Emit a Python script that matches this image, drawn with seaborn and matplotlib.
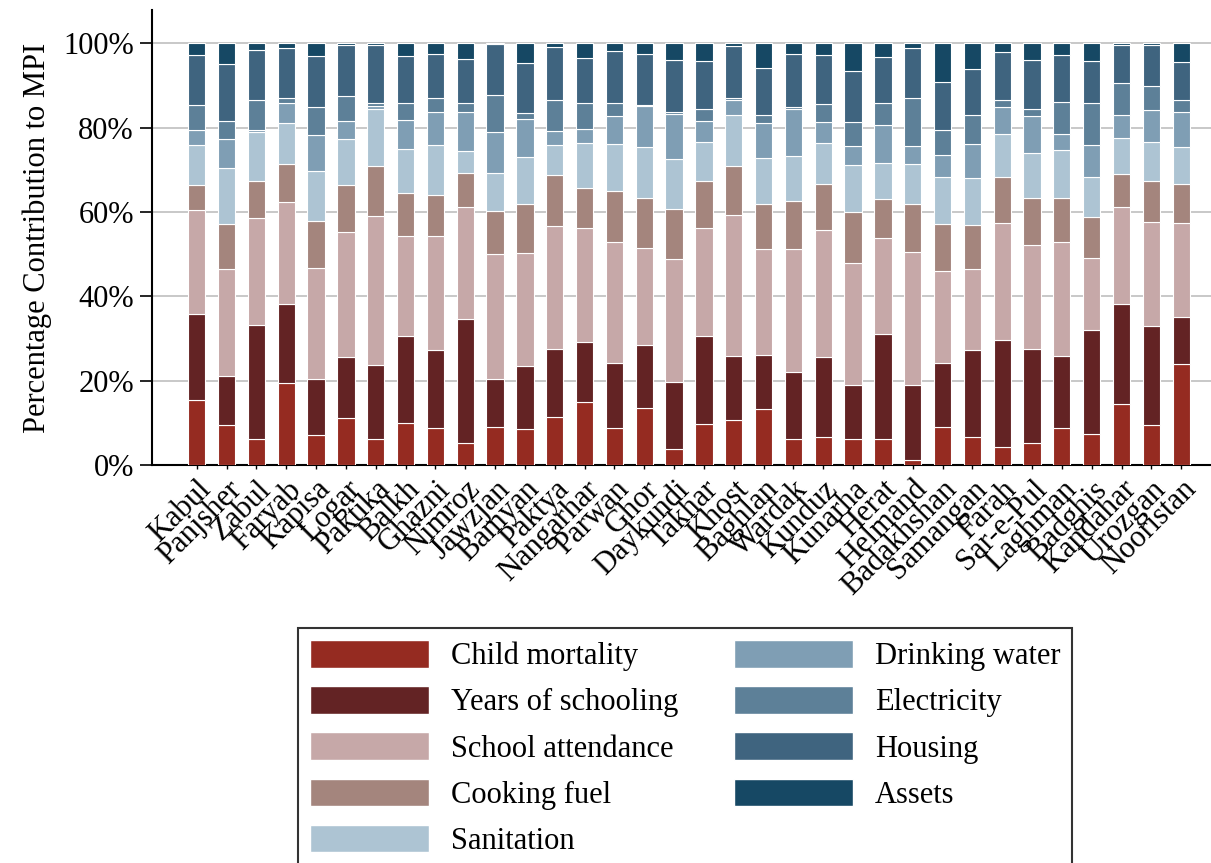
import pandas as pd
import matplotlib.pyplot as plt
import seaborn as sns
from matplotlib.patches import Patch
from matplotlib.ticker import FuncFormatter

# Provincias (orden del eje x)
provinces = ["Kabul", "Panjsher", "Zabul", "Faryab", "Kapisa", "Logar", "Paktika", "Balkh",
             "Ghazni", "Nimroz", "Jawzjan", "Bamyan", "Paktya", "Nangarhar", "Parwan", "Ghor",
             "Daykundi", "Takhar", "Khost", "Baghlan", "Wardak", "Kunduz", "Kunarha", "Herat",
             "Helmand", "Badakhshan", "Samangan", "Farah", "Sar-e-Pul", "Laghman", "Badghis",
             "Kandahar", "Urozgan", "Nooristan"]

# Contribuciones (%) por indicador, de abajo hacia arriba
child = [15.4, 9.6, 6.3, 19.5, 7.1, 11.2, 6.3, 9.9, 8.8, 5.3, 9.1, 8.5, 11.5, 15.0, 8.8, 13.6, 3.8,
         9.7, 10.7, 13.4, 6.3, 6.7, 6.3, 6.2, 1.2, 9.1, 6.7, 4.3, 5.3, 8.7, 7.3, 14.5, 9.5, 24.0]
years = [20.5, 11.5, 26.9, 18.7, 13.3, 14.4, 17.4, 20.7, 18.5, 29.3, 11.3, 15.1, 16.1, 14.2, 15.4, 14.8, 15.9,
         20.9, 15.2, 12.7, 15.8, 19.0, 12.7, 24.8, 17.8, 15.2, 20.6, 25.3, 22.3, 17.1, 24.8, 23.6, 23.4, 11.2]
school = [24.6, 25.3, 25.4, 24.2, 26.4, 29.6, 35.3, 23.8, 26.9, 26.6, 29.6, 26.6, 29.1, 27.1, 28.8, 23.1, 29.1,
          25.7, 33.5, 25.1, 29.1, 30.0, 28.8, 22.9, 31.6, 21.7, 19.3, 27.8, 24.7, 27.2, 17.0, 23.2, 24.8, 22.2]
cooking = [6.0, 10.8, 8.7, 9.1, 11.1, 11.2, 11.9, 10.2, 9.9, 8.0, 10.2, 11.6, 12.0, 9.5, 11.9, 11.8, 11.9,
           11.0, 11.5, 10.6, 11.3, 11.0, 12.1, 9.3, 11.4, 11.1, 10.4, 10.8, 11.0, 10.3, 9.8, 7.7, 9.7, 9.2]
sanitation = [9.5, 13.3, 11.7, 9.5, 11.8, 10.9, 13.6, 10.4, 11.7, 5.3, 9.0, 11.2, 7.3, 10.6, 11.2, 12.1, 11.8,
              9.3, 12.0, 10.9, 10.8, 9.7, 11.2, 8.4, 9.3, 11.1, 11.1, 10.2, 10.8, 11.3, 9.3, 8.6, 9.2, 8.8]
water = [3.4, 6.8, 0.4, 4.9, 8.5, 4.2, 0.7, 6.7, 8.0, 9.1, 9.8, 9.0, 3.1, 3.3, 6.6, 9.8, 10.8,
         4.9, 3.6, 8.4, 11.2, 5.0, 4.5, 9.0, 4.3, 5.3, 8.0, 6.5, 8.6, 3.9, 7.6, 5.3, 7.7, 8.2]
electricity = [5.9, 4.2, 7.1, 1.1, 6.8, 5.9, 0.7, 4.2, 3.2, 2.2, 8.8, 1.4, 7.5, 6.2, 3.1, 0.1, 0.4,
               3.0, 0.6, 1.8, 0.4, 4.1, 5.8, 5.3, 11.4, 6.0, 6.8, 1.7, 1.7, 7.5, 10.1, 7.7, 5.6, 2.9]
housing = [11.9, 13.5, 11.9, 11.9, 12.0, 12.1, 13.6, 11.1, 10.5, 10.5, 12.0, 11.9, 12.5, 10.6, 12.4, 12.1, 12.3,
           11.2, 12.2, 11.3, 12.6, 11.8, 12.0, 10.8, 11.9, 11.3, 11.0, 11.3, 11.7, 11.2, 9.8, 8.9, 9.8, 9.1]
assets = [2.8, 5.0, 1.6, 1.1, 3.0, 0.5, 0.5, 3.0, 2.5, 3.7, 0.2, 4.7, 0.9, 3.5, 1.8, 2.6, 4.0,
          4.3, 0.7, 5.8, 2.5, 2.7, 6.6, 3.3, 1.1, 9.2, 6.1, 2.1, 3.9, 2.8, 4.3, 0.5, 0.3, 4.4]

components = ["Child mortality", "Years of schooling", "School attendance", "Cooking fuel",
              "Sanitation", "Drinking water", "Electricity", "Housing", "Assets"]
colors = ["#952b21", "#632324", "#c6a8a8", "#a4857d", "#adc4d3",
          "#7f9eb4", "#5d8098", "#3f647f", "#164864"]

series = [child, years, school, cooking, sanitation, water, electricity, housing, assets]
rows = []
for comp, vals in zip(components, series):
    for i, v in enumerate(vals):
        rows.append({"idx": i, "Indicador": comp, "valor": v})
df = pd.DataFrame(rows)

sns.set_style("ticks")
plt.rcParams["font.family"] = ["Liberation Serif", "DejaVu Serif"]
plt.rcParams.update({"text.color": "black", "axes.labelcolor": "black",
                     "xtick.color": "black", "ytick.color": "black"})
FS = 22

fig = plt.figure(figsize=(12.11, 8.63), dpi=100)
ax = fig.add_axes([0.1255, 0.461, 0.8745, 0.527])

# histplot apila el primer nivel de hue arriba -> invertir orden
sns.histplot(data=df, x="idx", weights="valor", hue="Indicador",
             hue_order=components[::-1], palette=dict(zip(components, colors)),
             multiple="stack", discrete=True, shrink=0.58, alpha=1,
             edgecolor="white", linewidth=0.8, legend=False, ax=ax, zorder=3)

ax.set_xlim(-1.5, 34.0)
ax.set_ylim(0, 107.8)
ax.set_yticks([0, 20, 40, 60, 80, 100])
ax.yaxis.set_major_formatter(FuncFormatter(lambda v, p: f"{int(v)}%"))
ax.yaxis.grid(True, color="#c4c4c4", linewidth=1.3, zorder=0)
ax.set_axisbelow(True)

ax.set_xticks(range(len(provinces)))
ax.set_xticklabels(provinces, rotation=45, ha="right", rotation_mode="anchor")
ax.tick_params(axis="x", length=3, width=1, labelsize=FS, pad=4)
ax.tick_params(axis="y", length=9, width=1.2, labelsize=FS, pad=4)
ax.set_xlabel("")
ax.set_ylabel("Percentage Contribution to MPI", fontsize=FS, labelpad=8)

sns.despine(ax=ax)
for s in ["left", "bottom"]:
    ax.spines[s].set_linewidth(1.5)
    ax.spines[s].set_color("black")

handles = [Patch(facecolor=c, edgecolor="white") for c in colors]
leg = fig.legend(handles, components, ncol=2, loc="upper center",
                 bbox_to_anchor=(0.5657, 0.2723), borderaxespad=0, fontsize=FS, frameon=True,
                 fancybox=False, edgecolor="black", handlelength=3.9, handleheight=1.0,
                 handletextpad=0.72, columnspacing=1.8, labelspacing=0.49, borderpad=0.4)
leg.get_frame().set_linewidth(1.5)

fig.savefig("out.png", dpi=100)
